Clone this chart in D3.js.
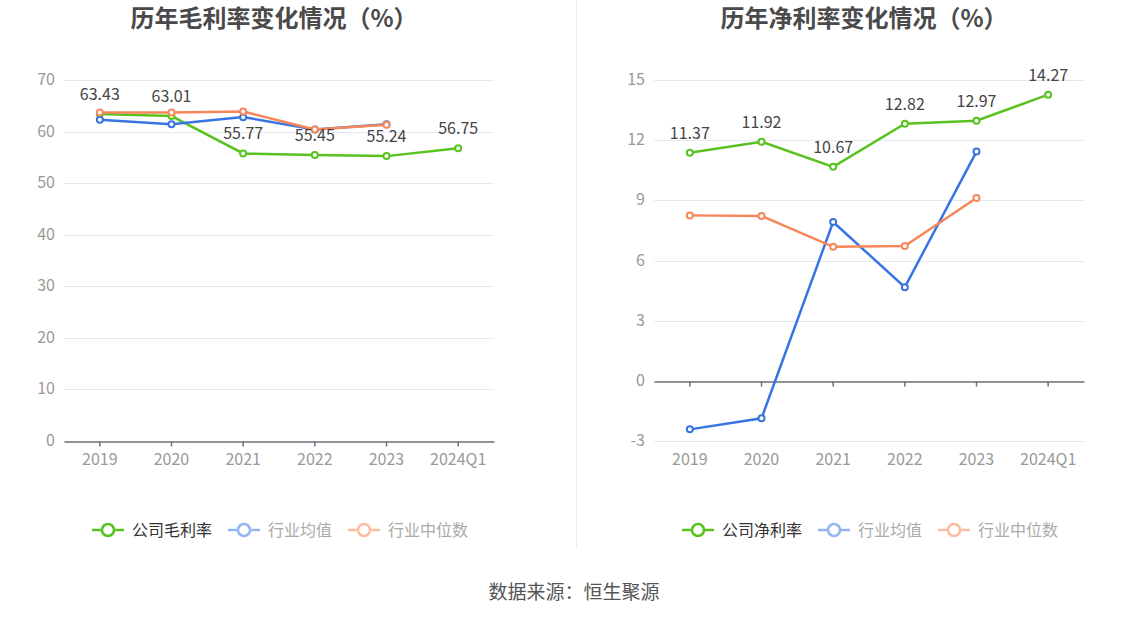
<!DOCTYPE html>
<html>
<head>
<meta charset="utf-8">
<title>历年毛利率/净利率变化情况</title>
<style type="text/css">
    body{ margin:0; background:#fff; font-family:"Noto Sans CJK SC","Noto Sans",sans-serif; }
    #chart{ width:1148px; height:619px; }
</style>
<script type="text/javascript" src="https://cdnjs.cloudflare.com/ajax/libs/d3/7.8.5/d3.min.js"></script>
</head>
<body>
<div id="chart"></div>
<script type="text/javascript">
var years = ["2019","2020","2021","2022","2023","2024Q1"];

// gross margin (left)
var grossCompany = [63.43, 63.01, 55.77, 55.45, 55.24, 56.75];
var grossAvg     = [62.3, 61.4, 62.8, 60.4, 61.4, null];
var grossMedian  = [63.7, 63.7, 63.9, 60.4, 61.3, null];
var grossTicks   = [0, 10, 20, 30, 40, 50, 60, 70];

// net margin (right)
var netCompany = [11.37, 11.92, 10.67, 12.82, 12.97, 14.27];
var netAvg     = [-2.42, -1.87, 7.92, 4.67, 11.43, null];
var netMedian  = [8.25, 8.22, 6.68, 6.72, 9.12, null];
var netTicks   = [-3, 0, 3, 6, 9, 12, 15];

var green = "#5ac21f", blue = "#3875e3", orange = "#f7875a";

var svg = d3.select("#chart").append("svg")
    .attr("width", 1148).attr("height", 619);

// divider
svg.append("line").attr("x1", 576.5).attr("x2", 576.5).attr("y1", 0).attr("y2", 548)
    .attr("stroke", "#eeeeee").attr("stroke-width", 1);

// source
svg.append("text").attr("x", 574).attr("y", 599).attr("text-anchor", "middle")
    .attr("font-size", 19).attr("fill", "#555").text("数据来源：恒生聚源");

function drawPanel(opt){
    var g = svg.append("g").attr("transform", "translate(" + opt.dx + ",0)");
    var left = 64, right = 494, top = 80, bottom = 441;

    g.append("text").attr("x", 274).attr("y", 27).attr("text-anchor", "middle")
        .attr("font-size", 24).attr("font-weight", "bold").attr("fill", "#4a4a4a")
        .text(opt.title);

    var x = d3.scaleBand().domain(years).range([left, right]);
    var y = d3.scaleLinear().domain(d3.extent(opt.ticks)).range([bottom, top]);
    var cx = function(d, i){ return x(years[i]) + x.bandwidth() / 2; };

    // grid
    g.append("g").selectAll("line").data(opt.ticks).join("line")
        .attr("x1", left).attr("x2", right)
        .attr("y1", function(d){ return Math.round(y(d)) + 0.5; })
        .attr("y2", function(d){ return Math.round(y(d)) + 0.5; })
        .attr("stroke", "#e6e9f1");

    // y labels
    g.append("g").selectAll("text").data(opt.ticks).join("text")
        .attr("x", left - 9).attr("y", function(d){ return y(d) + 5; })
        .attr("text-anchor", "end").attr("font-size", 16).attr("fill", "#999")
        .text(function(d){ return d; });

    // x axis on zero
    var y0 = Math.round(y(0)) + 0.5;
    var xAxis = d3.axisBottom(x).tickSize(5).tickSizeOuter(0).tickFormat("");
    var ax = g.append("g").attr("transform", "translate(0," + y0 + ")").call(xAxis);
    ax.select(".domain").attr("stroke", "#6e7079").attr("stroke-width", 1.5);
    ax.selectAll(".tick line").attr("stroke", "#6e7079").attr("stroke-width", 1.5);

    g.append("g").selectAll("text").data(years).join("text")
        .attr("x", function(d){ return x(d) + x.bandwidth() / 2; })
        .attr("y", 465).attr("text-anchor", "middle")
        .attr("font-size", 16).attr("fill", "#999")
        .text(function(d){ return d; });

    var line = d3.line()
        .defined(function(d){ return d != null; })
        .x(cx).y(function(d){ return y(d); });

    var series = [
        {v: opt.avg, c: blue},
        {v: opt.median, c: orange},
        {v: opt.company, c: green}
    ];
    if (opt.greenFirst) series = [series[2], series[0], series[1]];

    series.forEach(function(s){
        g.append("path").datum(s.v).attr("d", line)
            .attr("fill", "none").attr("stroke", s.c).attr("stroke-width", 2.5);
        g.append("g").selectAll("circle")
            .data(s.v.map(function(d, i){ return {v: d, i: i}; }).filter(function(d){ return d.v != null; }))
            .join("circle")
            .attr("cx", function(d){ return cx(d.v, d.i); })
            .attr("cy", function(d){ return y(d.v); })
            .attr("r", 3).attr("fill", "#fff")
            .attr("stroke", s.c).attr("stroke-width", 2);
    });

    // data labels on company line
    g.append("g").selectAll("text").data(opt.company).join("text")
        .attr("x", cx).attr("y", function(d){ return y(d) - 14; })
        .attr("text-anchor", "middle").attr("font-size", 16).attr("fill", "#444")
        .text(function(d){ return d.toFixed(2); });

    // legend
    var items = [
        {name: opt.companyName, c: green, t: "#333", x: 92},
        {name: "行业均值", c: "#94b5f3", t: "#aaa", x: 228},
        {name: "行业中位数", c: "#fbbda1", t: "#aaa", x: 348}
    ];
    var lg = g.append("g").selectAll("g").data(items).join("g")
        .attr("transform", function(d){ return "translate(" + d.x + ",530)"; });
    lg.append("line").attr("x1", 0).attr("x2", 32).attr("y1", 0).attr("y2", 0)
        .attr("stroke", function(d){ return d.c; }).attr("stroke-width", 2.5);
    lg.append("circle").attr("cx", 16).attr("cy", 0).attr("r", 6)
        .attr("fill", "#fff").attr("stroke", function(d){ return d.c; }).attr("stroke-width", 2.5);
    lg.append("text").attr("x", 40).attr("y", 6).attr("font-size", 16)
        .attr("fill", function(d){ return d.t; }).text(function(d){ return d.name; });
}

drawPanel({dx: 0, title: "历年毛利率变化情况（%）", ticks: grossTicks,
    company: grossCompany, avg: grossAvg, median: grossMedian, companyName: "公司毛利率", greenFirst: true});
drawPanel({dx: 590, title: "历年净利率变化情况（%）", ticks: netTicks,
    company: netCompany, avg: netAvg, median: netMedian, companyName: "公司净利率", greenFirst: false});
</script>
</body>
</html>
